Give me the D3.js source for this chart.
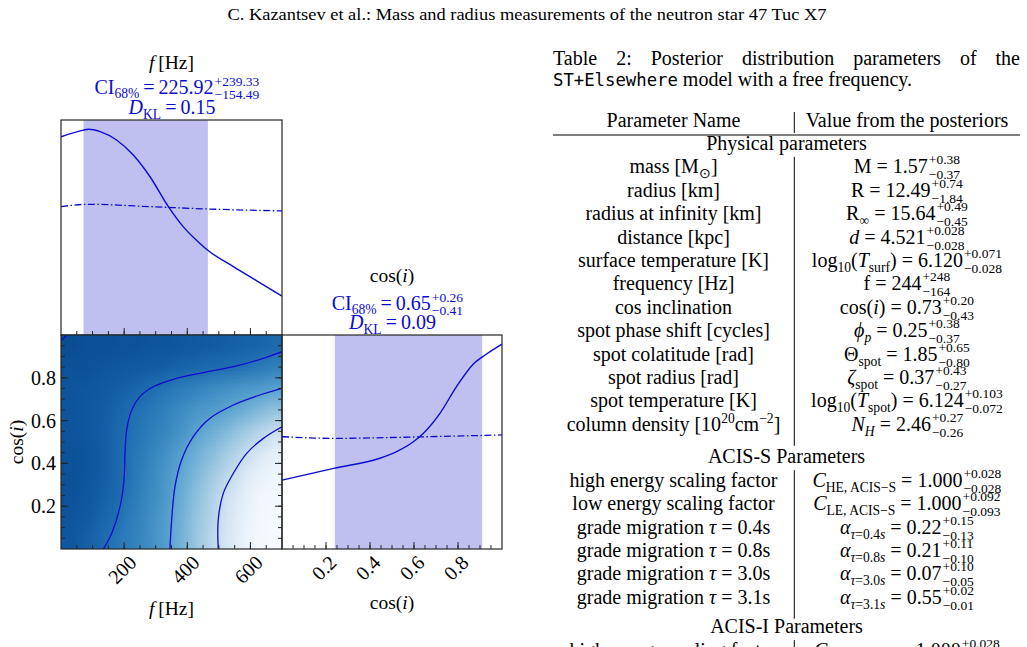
<!DOCTYPE html>
<html>
<head>
<meta charset="utf-8">
<script src="https://cdn.jsdelivr.net/npm/d3@7/dist/d3.min.js"></script>
<style>
  body { margin: 0; background: #fff; }
  svg text { font-family: "Liberation Serif", "Times New Roman", serif; fill: #000; }
</style>
</head>
<body>
<svg id="fig" width="1027" height="647"></svg>
<script>
// ---- marginal of f: posterior (solid) and prior (dash-dot), density in panel units
const fGrid  = [0, 71, 87, 124, 176, 229, 282, 340, 387, 440, 467, 546, 620, 700];
const fPost  = [0.922, 0.953, 0.957, 0.946, 0.907, 0.837, 0.736, 0.597, 0.504, 0.426, 0.392, 0.318, 0.252, 0.181];
const fPriorGrid = [0, 87, 282, 467, 700];
const fPrior     = [0.597, 0.608, 0.597, 0.586, 0.577];
const fCI = [71.43, 225.92, 465.25];          // lo, median, hi

// ---- marginal of cos(i)
const cosGrid = [0, 0.235, 0.445, 0.521, 0.597, 0.642, 0.718, 0.794, 0.870, 0.930, 1.0];
const cosPost = [0.322, 0.377, 0.424, 0.455, 0.501, 0.540, 0.634, 0.760, 0.865, 0.911, 0.957];
const cosPriorGrid = [0, 0.235, 0.54, 1.0];
const cosPrior     = [0.525, 0.517, 0.522, 0.533];
const cosCI = [0.24, 0.65, 0.91];

// ---- joint density (Blues level), cells of 50 Hz x 0.1
const densF   = [25, 75, 125, 175, 225, 275, 325, 375, 425, 475, 525, 575, 625, 675];
const densCos = [0.95, 0.85, 0.75, 0.65, 0.55, 0.45, 0.35, 0.25, 0.15, 0.05];
const density = [
  [0.89, 0.88, 0.88, 0.87, 0.87, 0.86, 0.86, 0.85, 0.84, 0.83, 0.82, 0.81, 0.80, 0.78],
  [0.87, 0.87, 0.86, 0.85, 0.84, 0.83, 0.82, 0.80, 0.79, 0.775, 0.765, 0.745, 0.72, 0.69],
  [0.86, 0.85, 0.84, 0.82, 0.80, 0.77, 0.74, 0.71, 0.68, 0.65, 0.62, 0.60, 0.58, 0.555],
  [0.86, 0.85, 0.83, 0.80, 0.76, 0.73, 0.69, 0.65, 0.61, 0.58, 0.545, 0.50, 0.45, 0.40],
  [0.86, 0.85, 0.83, 0.79, 0.75, 0.71, 0.67, 0.62, 0.555, 0.50, 0.44, 0.37, 0.30, 0.22],
  [0.87, 0.86, 0.83, 0.79, 0.74, 0.69, 0.63, 0.57, 0.50, 0.43, 0.35, 0.26, 0.16, 0.09],
  [0.87, 0.86, 0.83, 0.79, 0.73, 0.67, 0.61, 0.54, 0.46, 0.37, 0.27, 0.16, 0.08, 0.04],
  [0.87, 0.85, 0.82, 0.78, 0.72, 0.66, 0.60, 0.52, 0.42, 0.32, 0.20, 0.10, 0.04, 0.02],
  [0.86, 0.84, 0.80, 0.76, 0.70, 0.65, 0.58, 0.50, 0.40, 0.30, 0.17, 0.08, 0.03, 0.01],
  [0.85, 0.82, 0.78, 0.73, 0.69, 0.64, 0.58, 0.49, 0.39, 0.28, 0.16, 0.07, 0.02, 0.0]
];
// contour lines as [f, cos(i)]
const contourA = [[134,0],[160.5,0.073],[187,0.198],[199.5,0.322],[202.7,0.447],[208,0.556],[224,0.650],[250,0.712],[292,0.758],[356,0.793],[440,0.821],[546,0.852],[641,0.891],[700,0.922]];
const contourB = [[345,0],[350.5,0.136],[361,0.291],[382,0.416],[419,0.525],[472,0.611],[546,0.673],[620,0.715],[700,0.751]];
const contourC = [[498,0],[498,0.136],[514,0.26],[546,0.354],[588,0.447],[641,0.517],[700,0.571]];
const contourPeak = [[0,0.975],[8,0.985],[18,1.0]];

const fTicks = [200, 400, 600];
const cosTicks = [0.2, 0.4, 0.6, 0.8];

// ---- table
const pageTitle = "C. Kazantsev et al.: Mass and radius measurements of the neutron star 47 Tuc X7";
const captionLine1 = "Table 2: Posterior distribution parameters of the";
const sections = ["Physical parameters", "ACIS-S Parameters", "ACIS-I Parameters"];
const sectionSize = [12, 6, 1];
const paramNames = [
  [["mass [M"], ["⊙", "b"], ["]"]],
  [["radius [km]"]],
  [["radius at infinity [km]"]],
  [["distance [kpc]"]],
  [["surface temperature [K]"]],
  [["frequency [Hz]"]],
  [["cos inclination"]],
  [["spot phase shift [cycles]"]],
  [["spot colatitude [rad]"]],
  [["spot radius [rad]"]],
  [["spot temperature [K]"]],
  [["column density [10"], ["20", "p"], ["cm"], ["−2", "p"], ["]"]],
  [["high energy scaling factor"]],
  [["low energy scaling factor"]],
  [["grade migration "], ["τ", "i"], [" = 0.4s"]],
  [["grade migration "], ["τ", "i"], [" = 0.8s"]],
  [["grade migration "], ["τ", "i"], [" = 3.0s"]],
  [["grade migration "], ["τ", "i"], [" = 3.1s"]],
  [["high energy scaling factor"]]
];
const paramSymbols = [
  [["M"]],
  [["R"]],
  [["R"], ["∞", "b"]],
  [["d", "i"]],
  [["log"], ["10", "b"], ["("], ["T", "i"], ["surf", "b"], [")"]],
  [["f"]],
  [["cos("], ["i", "i"], [")"]],
  [["ϕ", "i"], ["p", "bi"]],
  [["Θ"], ["spot", "b"]],
  [["ζ", "i"], ["spot", "b"]],
  [["log"], ["10", "b"], ["("], ["T", "i"], ["spot", "b"], [")"]],
  [["N", "i"], ["H", "bi"]],
  [["C", "i"], ["HE, ACIS−S", "b"]],
  [["C", "i"], ["LE, ACIS−S", "b"]],
  [["α", "i"], ["τ", "bi"], ["=0.4", "b"], ["s", "bi"]],
  [["α", "i"], ["τ", "bi"], ["=0.8", "b"], ["s", "bi"]],
  [["α", "i"], ["τ", "bi"], ["=3.0", "b"], ["s", "bi"]],
  [["α", "i"], ["τ", "bi"], ["=3.1", "b"], ["s", "bi"]],
  [["C", "i"], ["HE, ACIS−I", "b"]]
];
const medians = ["1.57", "12.49", "15.64", "4.521", "6.120", "244", "0.73", "0.25", "1.85", "0.37", "6.124", "2.46", "1.000", "1.000", "0.22", "0.21", "0.07", "0.55", "1.000"];
const errPlus  = ["+0.38", "+0.74", "+0.49", "+0.028", "+0.071", "+248", "+0.20", "+0.38", "+0.65", "+0.43", "+0.103", "+0.27", "+0.028", "+0.092", "+0.15", "+0.11", "+0.10", "+0.02", "+0.028"];
const errMinus = ["−0.37", "−1.84", "−0.45", "−0.028", "−0.028", "−164", "−0.43", "−0.37", "−0.80", "−0.27", "−0.072", "−0.26", "−0.028", "−0.093", "−0.13", "−0.10", "−0.05", "−0.01", "−0.028"];

const blue = '#0b0bd0';
const bandFill = '#bfc0ef';
const frameCol = '#262626';
const tickFont = 20;

const svg = d3.select('#fig');

// scales
const xF = d3.scaleLinear([0, 700], [61, 282]);
const yTop = d3.scaleLinear([0, 1], [335, 120]);
const yCos = d3.scaleLinear([0, 1], [549, 335]);
const xCos = d3.scaleLinear([0, 1], [282, 502]);
const yRight = d3.scaleLinear([0, 1], [549, 335]);

// rich text: segments [text, flags] b=sub, p=sup, i=italic
function rich(sel, segs, size, subDy = 5, supDy = -8) {
  let shift = 0;
  segs.forEach(([s, fl = '']) => {
    const target = fl.includes('b') ? subDy : fl.includes('p') ? supDy : 0;
    sel.append('tspan').text(s)
      .attr('dy', target - shift)
      .style('font-size', (target !== 0 ? size * 0.68 : size) + 'px')
      .style('font-style', fl.includes('i') ? 'italic' : 'normal');
    shift = target;
  });
}

// value with stacked super/subscript, centred at cx
function valueWithErr(parent, cx, y, segs, size, plus, minus, color, opts = {}) {
  const g = parent.append('g');
  const t = g.append('text').attr('x', 0).attr('y', y).style('fill', color);
  rich(t, segs, size, opts.subDy || 5, opts.supDy || -8);
  const w = t.node().getComputedTextLength();
  const ss = opts.scriptSize || 13.5;
  g.append('text').attr('x', w + 1).attr('y', y - (opts.up || 9)).text(plus)
    .style('font-size', ss + 'px').style('fill', color);
  g.append('text').attr('x', w + 1).attr('y', y + (opts.down || 6)).text(minus)
    .style('font-size', ss + 'px').style('fill', color);
  const bb = g.node().getBBox();
  g.attr('transform', `translate(${cx - bb.width / 2 - bb.x},0)`);
  return g;
}

function centredRich(parent, cx, y, segs, size, color = '#000') {
  const t = parent.append('text').attr('y', y).attr('text-anchor', 'middle').style('fill', color);
  rich(t, segs, size);
  t.attr('x', cx);
  return t;
}

function tickLines(g, scale, values, axis, pos, dir, len) {
  g.selectAll(null).data(values).enter().append('line')
    .attr(axis === 'x' ? 'x1' : 'y1', d => scale(d))
    .attr(axis === 'x' ? 'x2' : 'y2', d => scale(d))
    .attr(axis === 'x' ? 'y1' : 'x1', pos)
    .attr(axis === 'x' ? 'y2' : 'x2', pos + dir * len)
    .style('stroke', frameCol).style('stroke-width', 1);
}
function inner(scale, n) {
  const [a, b] = scale.domain();
  return scale.ticks(n).filter(v => v > a + 1e-9 && v < b - 1e-9);
}

function frame(g, xs, ys) {
  g.append('rect')
    .attr('x', xs.range()[0]).attr('y', ys.range()[1])
    .attr('width', xs.range()[1] - xs.range()[0])
    .attr('height', ys.range()[0] - ys.range()[1])
    .style('fill', 'none').style('stroke', frameCol).style('stroke-width', 1.2);
}
function clipFor(id, xs, ys) {
  svg.append('clipPath').attr('id', id).append('rect')
    .attr('x', xs.range()[0]).attr('y', ys.range()[1])
    .attr('width', xs.range()[1] - xs.range()[0])
    .attr('height', ys.range()[0] - ys.range()[1]);
}

// ---------- page header
const head = svg.append('text').attr('x', 527).attr('y', 20).attr('text-anchor', 'middle')
  .style('font-size', '16.5px').text(pageTitle);
head.attr('textLength', 599).attr('lengthAdjust', 'spacingAndGlyphs');

// ---------- top panel: f marginal
clipFor('clipTop', xF, yTop);
const gTop = svg.append('g');
const gTopC = gTop.append('g').attr('clip-path', 'url(#clipTop)');
gTopC.append('rect')
  .attr('x', xF(fCI[0])).attr('y', yTop(1))
  .attr('width', xF(fCI[2]) - xF(fCI[0])).attr('height', yTop(0) - yTop(1))
  .style('fill', bandFill);
const lineTop = d3.line().x(d => xF(d[0])).y(d => yTop(d[1])).curve(d3.curveMonotoneX);
gTopC.append('path').attr('d', lineTop(d3.zip(fGrid, fPost)))
  .style('fill', 'none').style('stroke', blue).style('stroke-width', 1.4);
gTopC.append('path').attr('d', lineTop(d3.zip(fPriorGrid, fPrior)))
  .style('fill', 'none').style('stroke', blue).style('stroke-width', 1.3)
  .style('stroke-dasharray', '7,2.5,1.5,2.5');
frame(gTop, xF, yTop);
tickLines(gTop, xF, inner(xF, 14), 'x', 335, -1, 4);
tickLines(gTop, xF, inner(xF, 4), 'x', 335, -1, 7);

centredRich(gTop, 171.5, 69, [["f", "i"], ["\u2009[Hz]"]], 19.5);
valueWithErr(gTop, 177, 94, [["CI"], ["68%", "b"], ["\u2009=\u2009" + fCI[1].toFixed(2)]], 20,
  "+" + (fCI[2] - fCI[1]).toFixed(2), "−" + (fCI[1] - fCI[0]).toFixed(2), blue,
  { up: 8, down: 4.5, scriptSize: 13.5, subDy: 4 });
centredRich(gTop, 172, 114, [["D", "i"], ["KL", "b"], ["\u2009=\u20090.15"]], 20, blue);

// ---------- 2D panel
clipFor('clip2d', xF, yCos);
const g2 = svg.append('g');
const g2c = g2.append('g').attr('clip-path', 'url(#clip2d)');
const colour = d3.scaleSequential(d3.interpolateBlues).domain([0, 1]);
const cv = document.createElement('canvas');
cv.width = densF.length; cv.height = densCos.length;
const ctx = cv.getContext('2d');
density.forEach((row, j) => row.forEach((v, i) => {
  ctx.fillStyle = colour(v);
  ctx.fillRect(i, j, 1, 1);
}));
g2c.append('image').attr('href', cv.toDataURL())
  .attr('x', xF(0)).attr('y', yCos(1))
  .attr('width', xF(700) - xF(0)).attr('height', yCos(0) - yCos(1))
  .attr('preserveAspectRatio', 'none');
const cline = d3.line().x(d => xF(d[0])).y(d => yCos(d[1])).curve(d3.curveCatmullRom);
[contourA, contourB, contourC, contourPeak].forEach(c => {
  g2c.append('path').attr('d', cline(c))
    .style('fill', 'none').style('stroke', blue).style('stroke-width', 1.3);
});
frame(g2, xF, yCos);
tickLines(g2, xF, inner(xF, 14), 'x', 549, -1, 4);
tickLines(g2, xF, inner(xF, 4), 'x', 549, -1, 7);
tickLines(g2, yCos, inner(yCos, 20), 'y', 61, 1, 4);
tickLines(g2, yCos, inner(yCos, 5), 'y', 61, 1, 7);
tickLines(g2, yCos, inner(yCos, 20), 'y', 282, -1, 4);
tickLines(g2, yCos, inner(yCos, 5), 'y', 282, -1, 7);

function rotLabels(g, scale, values, y0, fmt) {
  values.forEach(v => {
    const t = g.append('text').text(fmt(v))
      .style('font-size', tickFont + 'px')
      .attr('text-anchor', 'middle')
      .attr('dominant-baseline', 'central');
    const w = t.node().getComputedTextLength();
    const side = (w + tickFont * 0.7) * Math.SQRT1_2;
    t.attr('transform', `translate(${scale(v) - 2},${y0 + 5 + side / 2}) rotate(-45)`);
  });
}
rotLabels(g2, xF, fTicks, 549, d3.format('d'));
g2.selectAll(null).data(cosTicks).enter().append('text')
  .attr('x', 56).attr('y', d => yCos(d))
  .attr('text-anchor', 'end').attr('dominant-baseline', 'central')
  .style('font-size', tickFont + 'px').text(d3.format('.1f'));
centredRich(g2, 171.5, 615, [["f", "i"], ["\u2009[Hz]"]], 19.5);
const yl = g2.append('text').attr('text-anchor', 'middle')
  .attr('transform', `translate(23,${yCos(0.5)}) rotate(-90)`);
rich(yl, [["cos("], ["i", "i"], [")"]], 19.5);

// ---------- right panel: cos(i) marginal
clipFor('clipRight', xCos, yRight);
const gR = svg.append('g');
const gRc = gR.append('g').attr('clip-path', 'url(#clipRight)');
gRc.append('rect')
  .attr('x', xCos(cosCI[0])).attr('y', yRight(1))
  .attr('width', xCos(cosCI[2]) - xCos(cosCI[0])).attr('height', yRight(0) - yRight(1))
  .style('fill', bandFill);
const lineR = d3.line().x(d => xCos(d[0])).y(d => yRight(d[1])).curve(d3.curveMonotoneX);
gRc.append('path').attr('d', lineR(d3.zip(cosGrid, cosPost)))
  .style('fill', 'none').style('stroke', blue).style('stroke-width', 1.4);
gRc.append('path').attr('d', lineR(d3.zip(cosPriorGrid, cosPrior)))
  .style('fill', 'none').style('stroke', blue).style('stroke-width', 1.3)
  .style('stroke-dasharray', '7,2.5,1.5,2.5');
frame(gR, xCos, yRight);
tickLines(gR, xCos, inner(xCos, 20), 'x', 549, -1, 4);
tickLines(gR, xCos, inner(xCos, 5), 'x', 549, -1, 7);
rotLabels(gR, xCos, cosTicks, 549, d3.format('.1f'));
centredRich(gR, 392, 609, [["cos("], ["i", "i"], [")"]], 19.5);

centredRich(gR, 392, 282, [["cos("], ["i", "i"], [")"]], 19.5);
valueWithErr(gR, 397.5, 310, [["CI"], ["68%", "b"], ["\u2009=\u2009" + cosCI[1].toFixed(2)]], 20,
  "+" + (cosCI[2] - cosCI[1]).toFixed(2), "−" + (cosCI[1] - cosCI[0]).toFixed(2), blue,
  { up: 8, down: 4.5, scriptSize: 13.5, subDy: 4 });
centredRich(gR, 392.5, 328.5, [["D", "i"], ["KL", "b"], ["\u2009=\u20090.09"]], 20, blue);

// ---------- caption
const gCap = svg.append('g');
const capWords = captionLine1.split(' ');
const capX0 = 553, capX1 = 1020, capY = 64.5;
const wordNodes = capWords.map(w => gCap.append('text').attr('y', capY).style('font-size', '20px').text(w));
const widths = wordNodes.map(n => n.node().getComputedTextLength());
const gap = (capX1 - capX0 - d3.sum(widths)) / (capWords.length - 1);
let cx = capX0;
wordNodes.forEach((n, i) => { n.attr('x', cx); cx += widths[i] + gap; });
const cap2 = gCap.append('text').attr('x', 553).attr('y', 86).style('font-size', '20px');
cap2.append('tspan').text('ST+Elsewhere')
  .style('font-family', '"DejaVu Sans Mono", monospace').style('font-size', '17.3px');
cap2.append('tspan').text(' model with a free frequency.');

// ---------- table
const gT = svg.append('g');
const colL = 673.5, colR = 907, barX = 794.3, tabX0 = 553, tabX1 = 1020;
gT.append('text').attr('x', colL).attr('y', 127).attr('text-anchor', 'middle')
  .style('font-size', '20px').text('Parameter Name');
gT.append('text').attr('x', colR).attr('y', 127).attr('text-anchor', 'middle')
  .style('font-size', '20px').text('Value from the posteriors');
gT.append('line').attr('x1', barX).attr('x2', barX).attr('y1', 112).attr('y2', 133)
  .style('stroke', '#000').style('stroke-width', 1);
gT.append('line').attr('x1', tabX0).attr('x2', tabX1).attr('y1', 135).attr('y2', 135)
  .style('stroke', '#000').style('stroke-width', 1.1);

const sectionY = [150, 463.3, 633.3];
const pitch = 23.4;
let idx = 0;
sections.forEach((name, s) => {
  gT.append('text').attr('x', (tabX0 + tabX1) / 2).attr('y', sectionY[s])
    .attr('text-anchor', 'middle').style('font-size', '20px').text(name);
  const first = sectionY[s] + pitch;
  const last = first + pitch * (sectionSize[s] - 1);
  gT.append('line').attr('x1', barX).attr('x2', barX)
    .attr('y1', first - 16.5).attr('y2', last + 15)
    .style('stroke', '#000').style('stroke-width', 1);
  for (let k = 0; k < sectionSize[s]; k++, idx++) {
    const y = first + pitch * k;
    centredRich(gT, colL, y, paramNames[idx], 20);
    valueWithErr(gT, colR, y,
      paramSymbols[idx].concat([[" = " + medians[idx]]]), 20,
      errPlus[idx], errMinus[idx], '#000');
  }
});
</script>
</body>
</html>
